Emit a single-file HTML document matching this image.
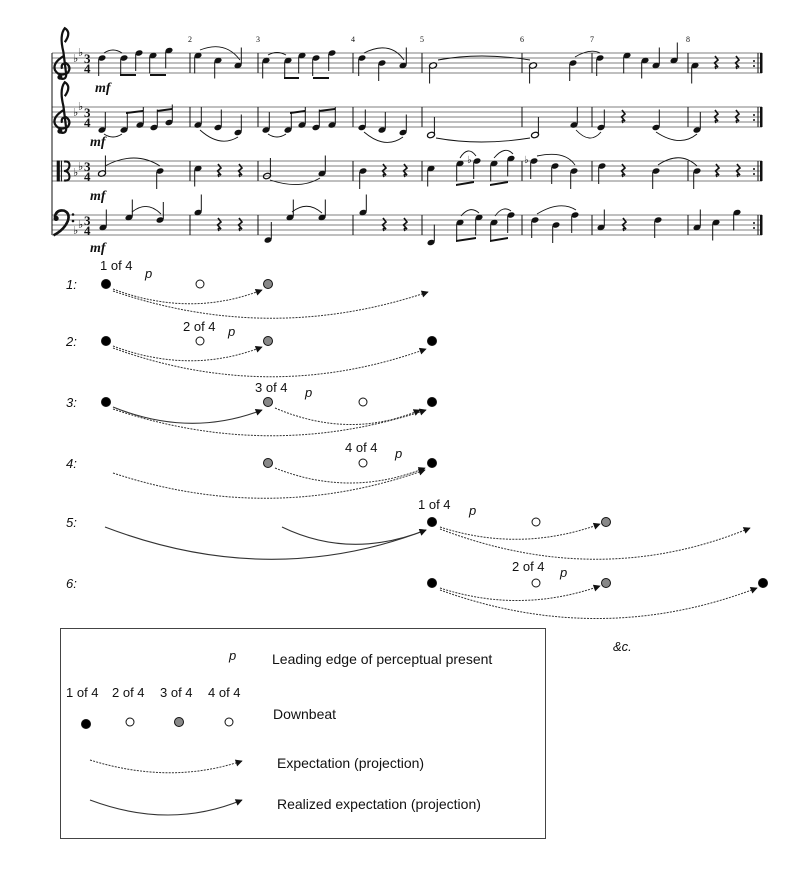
<!DOCTYPE html>
<html><head><meta charset="utf-8"><style>
html,body{margin:0;padding:0;background:#fff;}
svg{display:block;}
.t{font-family:"Liberation Sans",sans-serif;font-size:13px;fill:#111;}
.l{font-family:"Liberation Sans",sans-serif;font-size:14px;fill:#111;}
.i{font-family:"Liberation Sans",sans-serif;font-style:italic;font-size:13px;fill:#111;}
.mf{font-family:"Liberation Serif",serif;font-style:italic;font-weight:bold;font-size:14px;fill:#111;}
.ts{font-family:"Liberation Serif",serif;font-weight:bold;font-size:13px;fill:#111;}
.mn{font-family:"Liberation Serif",serif;font-size:8px;fill:#111;}
</style></head><body>
<svg width="800" height="891" viewBox="0 0 800 891" xmlns="http://www.w3.org/2000/svg">
<defs>
<symbol id="qu" overflow="visible"><ellipse rx="3.7" ry="2.6" transform="rotate(-20)" fill="#111"/><line x1="3.3" y1="-1" x2="3.3" y2="-18" stroke="#111" stroke-width="1"/></symbol>
<symbol id="qd" overflow="visible"><ellipse rx="3.7" ry="2.6" transform="rotate(-20)" fill="#111"/><line x1="-3.3" y1="1" x2="-3.3" y2="18" stroke="#111" stroke-width="1"/></symbol>
<symbol id="hu" overflow="visible"><ellipse rx="3.7" ry="2.6" transform="rotate(-20)" fill="none" stroke="#111" stroke-width="1.3"/><line x1="3.4" y1="-1" x2="3.4" y2="-18" stroke="#111" stroke-width="1"/></symbol>
<symbol id="hd" overflow="visible"><ellipse rx="3.7" ry="2.6" transform="rotate(-20)" fill="none" stroke="#111" stroke-width="1.3"/><line x1="-3.4" y1="1" x2="-3.4" y2="18" stroke="#111" stroke-width="1"/></symbol>
<symbol id="r" overflow="visible"><path d="M-1,-7 L2,-3 L-1.5,0 L2,4 Q-2,2 0,6" fill="none" stroke="#111" stroke-width="1.6"/></symbol>
<symbol id="tc" overflow="visible"><path d="M2,-17 Q7,-24 2,-27 Q-2,-22 1,-10 L3,6 Q3,10 -1,9 M1,-7 Q-7,-2 -5,3 Q-2,8 4,5 Q7,1 3,-2 Q-1,-2 0,2" fill="none" stroke="#111" stroke-width="1.6"/><circle cx="-1.5" cy="8" r="1.8" fill="#111"/></symbol>
<symbol id="bc" overflow="visible"><path d="M-4,-3 Q-3,-9 3,-8 Q8,-6 6,0 Q3,7 -5,11" fill="none" stroke="#111" stroke-width="2"/><circle cx="-3" cy="-2" r="2" fill="#111"/><circle cx="10" cy="-5" r="1" fill="#111"/><circle cx="10" cy="0" r="1" fill="#111"/></symbol>
<symbol id="ac" overflow="visible"><rect x="-6" y="-10" width="3" height="20" fill="#111"/><rect x="-2" y="-10" width="1" height="20" fill="#111"/><path d="M1,-9 Q7,-10 6,-4 Q5,0 1,0 Q5,0 6,4 Q7,10 1,9" fill="none" stroke="#111" stroke-width="2"/></symbol>
<marker id="ah" viewBox="0 0 10 10" refX="9" refY="5" markerWidth="9" markerHeight="7" markerUnits="userSpaceOnUse" orient="auto"><path d="M0,0 L10,5 L0,10 z" fill="#111"/></marker>
</defs>

<g stroke="#555" stroke-width="0.8">
<line x1="52" x2="762" y1="53" y2="53"/><line x1="52" x2="762" y1="58" y2="58"/><line x1="52" x2="762" y1="63" y2="63"/><line x1="52" x2="762" y1="68" y2="68"/><line x1="52" x2="762" y1="73" y2="73"/>
<line x1="52" x2="762" y1="107" y2="107"/><line x1="52" x2="762" y1="112" y2="112"/><line x1="52" x2="762" y1="117" y2="117"/><line x1="52" x2="762" y1="122" y2="122"/><line x1="52" x2="762" y1="127" y2="127"/>
<line x1="52" x2="762" y1="161" y2="161"/><line x1="52" x2="762" y1="166" y2="166"/><line x1="52" x2="762" y1="171" y2="171"/><line x1="52" x2="762" y1="176" y2="176"/><line x1="52" x2="762" y1="181" y2="181"/>
<line x1="52" x2="762" y1="215" y2="215"/><line x1="52" x2="762" y1="220" y2="220"/><line x1="52" x2="762" y1="225" y2="225"/><line x1="52" x2="762" y1="230" y2="230"/><line x1="52" x2="762" y1="235" y2="235"/>
</g>
<g stroke="#111" stroke-width="1">
<line x1="52" x2="52" y1="53" y2="235"/>
<line x1="190" x2="190" y1="53" y2="73"/><line x1="190" x2="190" y1="107" y2="127"/><line x1="190" x2="190" y1="161" y2="181"/><line x1="190" x2="190" y1="215" y2="235"/>
<line x1="258" x2="258" y1="53" y2="73"/><line x1="258" x2="258" y1="107" y2="127"/><line x1="258" x2="258" y1="161" y2="181"/><line x1="258" x2="258" y1="215" y2="235"/>
<line x1="353" x2="353" y1="53" y2="73"/><line x1="353" x2="353" y1="107" y2="127"/><line x1="353" x2="353" y1="161" y2="181"/><line x1="353" x2="353" y1="215" y2="235"/>
<line x1="422" x2="422" y1="53" y2="73"/><line x1="422" x2="422" y1="107" y2="127"/><line x1="422" x2="422" y1="161" y2="181"/><line x1="422" x2="422" y1="215" y2="235"/>
<line x1="522" x2="522" y1="53" y2="73"/><line x1="522" x2="522" y1="107" y2="127"/><line x1="522" x2="522" y1="161" y2="181"/><line x1="522" x2="522" y1="215" y2="235"/>
<line x1="592" x2="592" y1="53" y2="73"/><line x1="592" x2="592" y1="107" y2="127"/><line x1="592" x2="592" y1="161" y2="181"/><line x1="592" x2="592" y1="215" y2="235"/>
<line x1="688" x2="688" y1="53" y2="73"/><line x1="688" x2="688" y1="107" y2="127"/><line x1="688" x2="688" y1="161" y2="181"/><line x1="688" x2="688" y1="215" y2="235"/>
<line x1="758" x2="758" y1="53" y2="73"/><line x1="758" x2="758" y1="107" y2="127"/><line x1="758" x2="758" y1="161" y2="181"/><line x1="758" x2="758" y1="215" y2="235"/>
</g>
<g fill="#111"><rect x="760" y="53" width="2.5" height="20"/><rect x="760" y="107" width="2.5" height="20"/><rect x="760" y="161" width="2.5" height="20"/><rect x="760" y="215" width="2.5" height="20"/>
<circle cx="754" cy="61" r="1"/><circle cx="754" cy="66" r="1"/><circle cx="754" cy="115" r="1"/><circle cx="754" cy="120" r="1"/><circle cx="754" cy="169" r="1"/><circle cx="754" cy="174" r="1"/><circle cx="754" cy="223" r="1"/><circle cx="754" cy="228" r="1"/></g>
<text class="mn" x="188" y="42">2</text><text class="mn" x="256" y="42">3</text><text class="mn" x="351" y="42">4</text><text class="mn" x="420" y="42">5</text><text class="mn" x="520" y="42">6</text><text class="mn" x="590" y="42">7</text><text class="mn" x="686" y="42">8</text>
<use href="#tc" transform="translate(62,66) scale(1.4)"/><use href="#tc" transform="translate(62,120) scale(1.4)"/><use href="#ac" transform="translate(63,171) scale(1.05)"/><use href="#bc" transform="translate(60,221) scale(1.3)"/>
<g font-family="DejaVu Sans" font-size="11" fill="#111">
<text x="73" y="62">♭</text><text x="78" y="56">♭</text>
<text x="73" y="116">♭</text><text x="78" y="110">♭</text>
<text x="73" y="176">♭</text><text x="78" y="170">♭</text>
<text x="73" y="234">♭</text><text x="78" y="228">♭</text>
</g>
<text class="ts" x="84" y="63">3</text><text class="ts" x="84" y="73">4</text>
<text class="ts" x="84" y="117">3</text><text class="ts" x="84" y="127">4</text>
<text class="ts" x="84" y="171">3</text><text class="ts" x="84" y="181">4</text>
<text class="ts" x="84" y="225">3</text><text class="ts" x="84" y="235">4</text>
<text class="mf" x="95" y="92">mf</text><text class="mf" x="90" y="146">mf</text><text class="mf" x="90" y="200">mf</text><text class="mf" x="90" y="252">mf</text>

<use href="#qd" x="102" y="58"/><use href="#qd" x="124" y="58"/><use href="#qd" x="139" y="53"/><use href="#qd" x="153" y="55.5"/><use href="#qd" x="169" y="50.5"/>
<path d="M120,76 L136,76 L136,74 L120,74Z M150,76 L166,76 L166,74 L150,74Z" fill="#111"/>
<use href="#qd" x="198" y="55.5"/><use href="#qd" x="218" y="60.5"/><use href="#qu" x="238" y="65.5"/>
<use href="#qd" x="266" y="60.5"/><use href="#qd" x="288" y="60.5"/><use href="#qd" x="302" y="55.5"/><use href="#qd" x="316" y="58"/><use href="#qd" x="332" y="53"/>
<path d="M284,79 L299,79 L299,77 L284,77Z M313,79 L329,79 L329,77 L313,77Z" fill="#111"/>
<use href="#qd" x="362" y="58"/><use href="#qd" x="382" y="63"/><use href="#qu" x="403" y="65.5"/>
<use href="#hd" x="433" y="65.5"/><use href="#hd" x="533" y="65.5"/>
<use href="#qd" x="573" y="63"/><use href="#qd" x="600" y="58"/>
<use href="#qd" x="627" y="55.5"/><use href="#qd" x="645" y="60.5"/><use href="#qu" x="656" y="65.5"/><use href="#qu" x="674" y="60.5"/>
<use href="#qd" x="695" y="65.5"/><use href="#r" x="716" y="63"/><use href="#r" x="737" y="63"/>
<g fill="none" stroke="#111" stroke-width="0.9">
<path d="M104,53 Q113,47 122,53"/><path d="M200,50 Q225,40 240,60"/><path d="M268,55 Q277,50 286,55"/><path d="M364,53 Q390,40 404,60"/><path d="M438,60 Q480,52 530,60"/><path d="M575,57 Q590,48 600,53"/>
</g>

<use href="#qu" x="102" y="130"/><use href="#qu" x="124" y="130"/><use href="#qu" x="140" y="125"/><use href="#qu" x="154" y="127.5"/><use href="#qu" x="169" y="122.5"/>
<path d="M126,112 L143,110 L143,112 L126,114Z M157,110 L172,108 L172,110 L157,112Z" fill="#111"/>
<use href="#qu" x="198" y="125"/><use href="#qu" x="218" y="127.5"/><use href="#qu" x="238" y="132.5"/>
<use href="#qu" x="266" y="130"/><use href="#qu" x="288" y="130"/><use href="#qu" x="302" y="125"/><use href="#qu" x="316" y="127.5"/><use href="#qu" x="332" y="125"/>
<path d="M290,112 L305,110 L305,112 L290,114Z M319,110 L335,108 L335,110 L319,112Z" fill="#111"/>
<use href="#qu" x="362" y="127.5"/><use href="#qu" x="382" y="130"/><use href="#qu" x="403" y="132.5"/>
<use href="#hu" x="431" y="135"/><use href="#hu" x="535" y="135"/>
<use href="#qu" x="574" y="125"/><use href="#qu" x="601" y="127.5"/><use href="#r" x="623" y="117"/><use href="#qu" x="656" y="127.5"/>
<use href="#qu" x="697" y="130"/><use href="#r" x="716" y="117"/><use href="#r" x="737" y="117"/>
<g fill="none" stroke="#111" stroke-width="0.9">
<path d="M104,134 Q113,140 122,134"/><path d="M200,130 Q220,148 238,137"/><path d="M268,134 Q277,140 286,134"/><path d="M364,132 Q385,150 403,137"/><path d="M436,138 Q480,146 530,138"/><path d="M576,130 Q590,145 601,132"/><path d="M656,132 Q680,148 697,134"/>
</g>

<use href="#hu" x="102" y="173.5"/><use href="#qd" x="160" y="171"/>
<use href="#qd" x="198" y="168.5"/><use href="#r" x="219" y="171"/><use href="#r" x="240" y="171"/>
<use href="#hu" x="267" y="176"/><use href="#qu" x="322" y="173.5"/>
<use href="#qd" x="363" y="171"/><use href="#r" x="384" y="171"/><use href="#r" x="405" y="171"/>
<use href="#qd" x="431" y="168.5"/><use href="#qd" x="460" y="163.5"/><use href="#qd" x="477" y="161"/><use href="#qd" x="494" y="163.5"/><use href="#qd" x="511" y="158.5"/>
<path d="M456,184 L474,181 L474,183 L456,186Z M490,184 L508,181 L508,183 L490,186Z" fill="#111"/>
<use href="#qd" x="534" y="161"/><use href="#qd" x="555" y="166"/><use href="#qd" x="574" y="171"/>
<use href="#qd" x="602" y="166"/><use href="#r" x="623" y="171"/><use href="#qd" x="656" y="171"/>
<use href="#qd" x="697" y="171"/><use href="#r" x="717" y="171"/><use href="#r" x="738" y="171"/>
<g font-family="DejaVu Sans" font-size="10" fill="#111"><text x="467" y="163">♭</text><text x="524" y="163">♭</text></g>
<g fill="none" stroke="#111" stroke-width="0.9">
<path d="M105,166 Q135,150 160,166"/><path d="M270,180 Q300,190 320,178"/><path d="M460,158 Q468,145 476,156"/><path d="M494,158 Q505,145 513,154"/><path d="M537,156 Q565,150 575,165"/><path d="M658,165 Q680,150 697,166"/>
</g>

<use href="#qu" x="103" y="227.5"/><use href="#qu" x="129" y="217.5"/><use href="#qu" x="160" y="220"/>
<use href="#qu" x="198" y="212.5"/><use href="#r" x="219" y="225"/><use href="#r" x="240" y="225"/>
<use href="#qu" x="268" y="240"/><use href="#qu" x="290" y="217.5"/><use href="#qu" x="322" y="217.5"/>
<use href="#qu" x="363" y="212.5"/><use href="#r" x="384" y="225"/><use href="#r" x="405" y="225"/>
<use href="#qu" x="431" y="242.5"/><use href="#qd" x="460" y="222.5"/><use href="#qd" x="479" y="217.5"/><use href="#qd" x="494" y="222.5"/><use href="#qd" x="511" y="215"/>
<path d="M456,240 L476,237 L476,239 L456,242Z M490,240 L508,237 L508,239 L490,242Z" fill="#111"/>
<use href="#qd" x="535" y="220"/><use href="#qd" x="556" y="225"/><use href="#qd" x="575" y="215"/>
<use href="#qu" x="601" y="227.5"/><use href="#r" x="624" y="225"/><use href="#qd" x="658" y="220"/>
<use href="#qu" x="697" y="227.5"/><use href="#qd" x="716" y="222.5"/><use href="#qd" x="737" y="212.5"/>
<g fill="none" stroke="#111" stroke-width="0.9">
<path d="M132,212 Q147,200 161,214"/><path d="M292,212 Q307,200 322,213"/><path d="M461,216 Q470,205 479,213"/><path d="M495,216 Q503,205 511,211"/><path d="M537,214 Q560,200 576,210"/>
</g>

<g class="i"><text x="66" y="289">1:</text><text x="66" y="346">2:</text><text x="66" y="407">3:</text><text x="66" y="468">4:</text><text x="66" y="527">5:</text><text x="66" y="588">6:</text></g>
<g class="t"><text x="100" y="270">1 of 4</text><text x="183" y="331">2 of 4</text><text x="255" y="392">3 of 4</text><text x="345" y="452">4 of 4</text><text x="418" y="509">1 of 4</text><text x="512" y="571">2 of 4</text></g>
<g class="i"><text x="145" y="278">p</text><text x="228" y="336">p</text><text x="305" y="397">p</text><text x="395" y="458">p</text><text x="469" y="515">p</text><text x="560" y="577">p</text></g>

<g stroke="#111" stroke-width="1">
<circle cx="106" cy="284" r="4.5" fill="#000"/><circle cx="200" cy="284" r="4" fill="#fff"/><circle cx="268" cy="284" r="4.5" fill="#888"/>
<circle cx="106" cy="341" r="4.5" fill="#000"/><circle cx="200" cy="341" r="4" fill="#fff"/><circle cx="268" cy="341" r="4.5" fill="#888"/><circle cx="432" cy="341" r="4.5" fill="#000"/>
<circle cx="106" cy="402" r="4.5" fill="#000"/><circle cx="268" cy="402" r="4.5" fill="#888"/><circle cx="363" cy="402" r="4" fill="#fff"/><circle cx="432" cy="402" r="4.5" fill="#000"/>
<circle cx="268" cy="463" r="4.5" fill="#888"/><circle cx="363" cy="463" r="4" fill="#fff"/><circle cx="432" cy="463" r="4.5" fill="#000"/>
<circle cx="432" cy="522" r="4.5" fill="#000"/><circle cx="536" cy="522" r="4" fill="#fff"/><circle cx="606" cy="522" r="4.5" fill="#888"/>
<circle cx="432" cy="583" r="4.5" fill="#000"/><circle cx="536" cy="583" r="4" fill="#fff"/><circle cx="606" cy="583" r="4.5" fill="#888"/><circle cx="763" cy="583" r="4.5" fill="#000"/>
</g>

<g fill="none" stroke="#333" stroke-width="1" stroke-dasharray="2 1.2" marker-end="url(#ah)">
<path d="M113,289 Q190,318 262,290"/>
<path d="M113,291 Q270,345 428,292"/>
<path d="M113,346 Q190,375 262,347"/>
<path d="M113,348 Q270,405 426,349"/>
<path d="M113,409 Q270,462 426,410"/>
<path d="M275,408 Q350,440 420,410"/>
<path d="M275,468 Q350,498 425,468"/>
<path d="M113,473 Q270,525 425,470"/>
<path d="M440,527 Q520,553 600,524"/>
<path d="M440,529 Q600,590 750,528"/>
<path d="M440,588 Q520,614 600,586"/>
<path d="M440,590 Q600,648 757,588"/>
</g>
<g fill="none" stroke="#333" stroke-width="1.1" marker-end="url(#ah)">
<path d="M113,407 Q190,438 262,410"/>
<path d="M105,527 Q270,590 426,530"/>
<path d="M282,527 Q350,560 426,530"/>
</g>

<text class="i" x="613" y="651">&amp;c.</text>

<rect x="60.5" y="628.5" width="485" height="210" fill="none" stroke="#444" stroke-width="1"/>
<text class="i" x="229" y="660">p</text>
<text class="l" x="272" y="664">Leading edge of perceptual present</text>
<g class="t"><text x="66" y="697">1 of 4</text><text x="112" y="697">2 of 4</text><text x="160" y="697">3 of 4</text><text x="208" y="697">4 of 4</text></g>
<g stroke="#111" stroke-width="1"><circle cx="86" cy="724" r="4.5" fill="#000"/><circle cx="130" cy="722" r="4" fill="#fff"/><circle cx="179" cy="722" r="4.5" fill="#888"/><circle cx="229" cy="722" r="4" fill="#fff"/></g>
<text class="l" x="273" y="719">Downbeat</text>
<path d="M90,760 Q170,785 242,761" fill="none" stroke="#333" stroke-width="1" stroke-dasharray="2 1.2" marker-end="url(#ah)"/>
<text class="l" x="277" y="768">Expectation (projection)</text>
<path d="M90,800 Q170,830 242,800" fill="none" stroke="#333" stroke-width="1.1" marker-end="url(#ah)"/>
<text class="l" x="277" y="809">Realized expectation (projection)</text>
</svg>
</body></html>
